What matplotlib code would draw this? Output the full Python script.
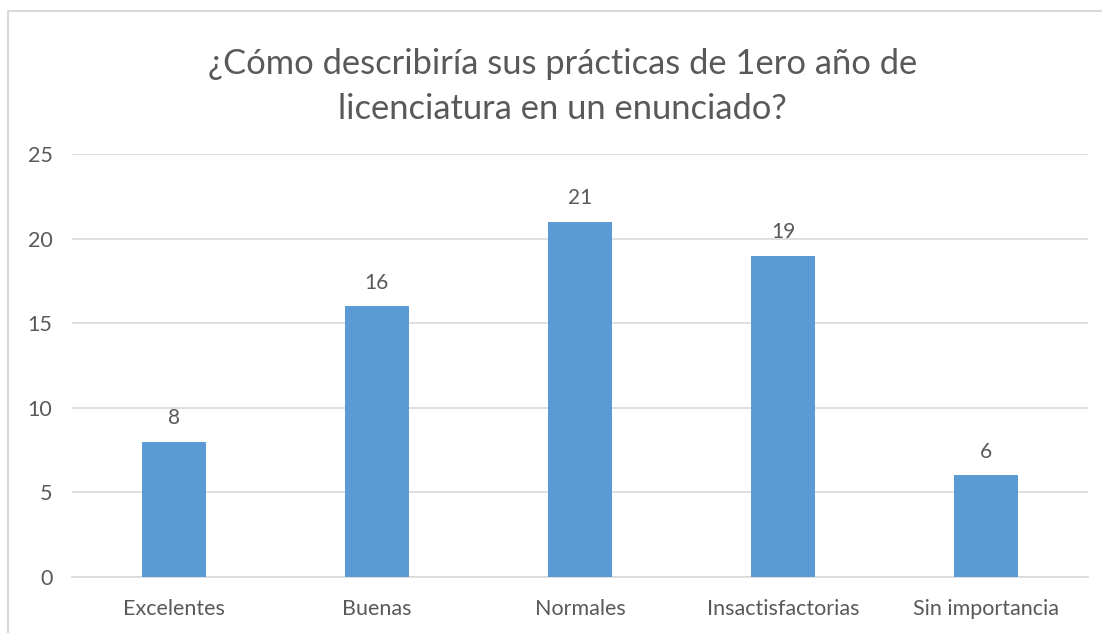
import matplotlib.pyplot as plt
from matplotlib.patches import Rectangle

categories = ['Excelentes', 'Buenas', 'Normales', 'Insactisfactorias', 'Sin importancia']
values = [8, 16, 21, 19, 6]
yticks = [0, 5, 10, 15, 20, 25]

TEXT = '#595959'
GRID = '#D9D9D9'
BAR = '#5B9BD5'

plt.rcParams['font.family'] = ['Lato', 'DejaVu Sans']

fig = plt.figure(figsize=(11.02, 6.33), dpi=100)
ax = fig.add_axes([0.0653, 0.0885, 0.922, 0.668])

x = range(len(categories))
bars = ax.bar(x, values, width=0.315, color=BAR, zorder=3)
for b, v in zip(bars, values):
    ax.annotate(str(v), (b.get_x() + b.get_width() / 2, v),
                xytext=(0, 17), textcoords='offset points',
                ha='center', va='center', fontsize=15, color=TEXT)

ax.set_xlim(-0.5, len(categories) - 0.5)
ax.set_ylim(0, 25)
ax.set_yticks(yticks)
ax.set_xticks(list(x))
ax.set_xticklabels(categories)
ax.grid(axis='y', color=GRID, linewidth=1.2, zorder=0)
for s in ['top', 'right', 'left']:
    ax.spines[s].set_visible(False)
ax.spines['bottom'].set_color(GRID)
ax.spines['bottom'].set_linewidth(1.2)
ax.tick_params(length=0, labelsize=15.5, colors=TEXT, pad=16)
ax.tick_params(axis='y', pad=14)

fig.text(0.5105, 0.864, '¿Cómo describiría sus prácticas de 1ero año de\nlicenciatura en un enunciado?',
         ha='center', va='center', fontsize=24.8, color=TEXT, linespacing=1.5)

# chart frame
fig.patches.append(Rectangle((8 / 1102, -0.05), 1.1, 1 - 11 / 633 + 0.05,
                             transform=fig.transFigure, fill=False,
                             edgecolor=GRID, linewidth=1.5))

fig.savefig('out.png', dpi=100)
